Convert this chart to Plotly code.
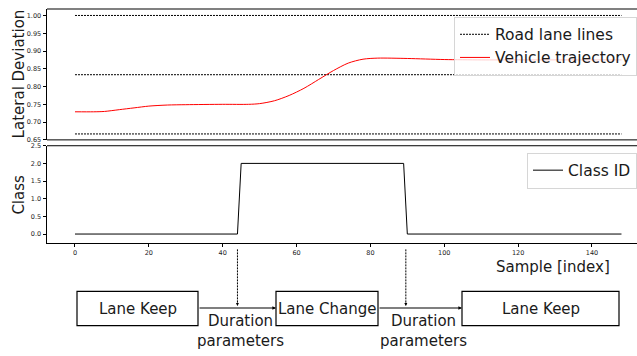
import plotly.graph_objects as go

# ---- data ----
lane_lines = [1.0, 0.8333, 0.6667]
lane_x_start = 0
lane_x_end = 148

traj_x = [0, 5, 8, 12, 16, 20, 25, 30, 40, 47, 50, 54, 58, 62, 66, 70, 74, 78, 82, 90, 100, 110, 120, 148]
traj_y = [0.729, 0.729, 0.730, 0.735, 0.740, 0.745, 0.748, 0.749, 0.750, 0.750, 0.752, 0.760,
          0.775, 0.795, 0.820, 0.845, 0.866, 0.877, 0.880, 0.879, 0.876, 0.875, 0.875, 0.875]

class_x = [0, 44, 45, 89, 90, 148]
class_y = [0, 0, 2, 2, 0, 0]

top_ticks = [0.65, 0.70, 0.75, 0.80, 0.85, 0.90, 0.95, 1.00]
bot_ticks = [0.0, 0.5, 1.0, 1.5, 2.0, 2.5]
x_ticks = [0, 20, 40, 60, 80, 100, 120, 140]

boxes = ["Lane Keep", "Lane Change", "Lane Keep"]
transitions = [44, 89.6]

W, H = 637, 356
FONT = "DejaVu Sans"

def px(x):
    return x / W

def py(y):
    return 1 - y / H

fig = go.Figure()

# lane lines (one legend entry)
lx, ly = [], []
for v in lane_lines:
    lx += [lane_x_start, lane_x_end, None]
    ly += [v, v, None]
fig.add_trace(go.Scatter(x=lx, y=ly, mode="lines", name="Road lane lines",
                         line=dict(color="black", width=1, dash="2px,1px"),
                         xaxis="x", yaxis="y", legend="legend"))
fig.add_trace(go.Scatter(x=traj_x, y=traj_y, mode="lines", name="Vehicle trajectory",
                         line=dict(color="red", width=1, shape="spline", smoothing=0.8),
                         xaxis="x", yaxis="y", legend="legend"))
fig.add_trace(go.Scatter(x=class_x, y=class_y, mode="lines", name="Class ID",
                         line=dict(color="black", width=1),
                         xaxis="x2", yaxis="y2", legend="legend2"))

xrange = [-7.58, 152.2]
xdom = [px(47), 1.0]
tickfont = dict(family=FONT, size=6.5, color="#222")

fig.update_layout(
    width=W, height=H,
    margin=dict(l=0, r=0, t=0, b=0),
    paper_bgcolor="white", plot_bgcolor="white",
    font=dict(family=FONT, color="black"),
    xaxis=dict(domain=xdom, range=xrange, anchor="y", showticklabels=False, ticks="",
               showgrid=False, zeroline=False, showline=False),
    yaxis=dict(domain=[py(139), py(5)], range=[0.65, 1.0185], anchor="x",
               tickvals=top_ticks, tickformat=".2f", ticks="outside", ticklen=3.5,
               tickwidth=1, tickcolor="black", tickfont=tickfont,
               showgrid=False, zeroline=False, showline=True, linecolor="black", linewidth=1),
    xaxis2=dict(domain=xdom, range=xrange, anchor="y2", tickvals=x_ticks,
                ticks="outside", ticklen=3.5, tickwidth=1, tickcolor="black", tickfont=tickfont,
                showgrid=False, zeroline=False, showline=True, linecolor="black", linewidth=1),
    yaxis2=dict(domain=[py(244), py(145)], range=[-0.24, 2.5], anchor="x2",
                tickvals=bot_ticks, tickformat=".1f", ticks="outside", ticklen=3.5,
                tickwidth=1, tickcolor="black", tickfont=tickfont,
                showgrid=False, zeroline=False, showline=True, linecolor="black", linewidth=1),
    legend=dict(x=1.0, y=py(13), xanchor="right", yanchor="top",
                bgcolor="rgba(255,255,255,0.8)", bordercolor="#d6d6d6", borderwidth=1,
                font=dict(family=FONT, size=15.5, color="#1a1a1a"), itemwidth=30,
                tracegroupgap=0),
    legend2=dict(x=1.0, y=py(152), xanchor="right", yanchor="top",
                 bgcolor="rgba(255,255,255,0.8)", bordercolor="#d6d6d6", borderwidth=1,
                 font=dict(family=FONT, size=15.5, color="#1a1a1a"), itemwidth=30),
    showlegend=True,
)

shapes = []
# top spine of top panel (gray) and bottom spine of top panel, top spine of bottom panel
shapes.append(dict(type="line", xref="paper", yref="paper", x0=px(47), x1=1, y0=py(5), y1=py(5),
                   line=dict(color="#808080", width=2)))
shapes.append(dict(type="line", xref="paper", yref="paper", x0=px(47), x1=1, y0=py(139), y1=py(139),
                   line=dict(color="black", width=1)))
shapes.append(dict(type="line", xref="paper", yref="paper", x0=px(47), x1=1, y0=py(145), y1=py(145),
                   line=dict(color="black", width=1)))

# diagram boxes
box_px = [(77, 198), (276, 378), (462, 619)]
for (x0, x1) in box_px:
    shapes.append(dict(type="rect", xref="paper", yref="paper", x0=px(x0), x1=px(x1),
                       y0=py(329), y1=py(294), line=dict(color="black", width=1.2),
                       fillcolor="rgba(0,0,0,0)"))
# vertical dashed arrows at transitions
for t in transitions:
    shapes.append(dict(type="line", xref="x2", yref="paper", x0=t, x1=t, y0=py(251), y1=py(306),
                       line=dict(color="black", width=1, dash="2px,1px")))

annotations = []
for i, (x0, x1) in enumerate(box_px):
    annotations.append(dict(text=boxes[i], xref="paper", yref="paper", x=px((x0 + x1) / 2),
                            y=py(311.5), showarrow=False, font=dict(family=FONT, size=15, color="#1a1a1a"),
                            xanchor="center", yanchor="middle"))
# connectors with arrowheads
for (a, b) in [(198, 276), (378, 462)]:
    annotations.append(dict(text="", xref="paper", yref="paper", x=px(b), y=py(311),
                            ax=a - b, ay=0, showarrow=True, arrowhead=2, arrowsize=0.6,
                            arrowwidth=1.2, arrowcolor="black", standoff=0))
for t in transitions:
    annotations.append(dict(text="", xref="x2", yref="paper", x=t, y=py(309),
                            ax=0, ay=-5, showarrow=True, arrowhead=2, arrowsize=0.6,
                            arrowwidth=1, arrowcolor="black", standoff=0))
for cx in [240, 423]:
    annotations.append(dict(text="Duration<br>parameters", xref="paper", yref="paper", x=px(cx),
                            y=py(334.5), showarrow=False,
                            font=dict(family=FONT, size=15, color="#1a1a1a"),
                            xanchor="center", yanchor="middle"))
# axis titles
annotations.append(dict(text="Lateral Deviation", xref="paper", yref="paper", x=px(19), y=py(72),
                        textangle=-90, showarrow=False, font=dict(family=FONT, size=15, color="#1a1a1a"),
                        xanchor="center", yanchor="middle"))
annotations.append(dict(text="Class", xref="paper", yref="paper", x=px(19), y=py(195),
                        textangle=-90, showarrow=False, font=dict(family=FONT, size=15, color="#1a1a1a"),
                        xanchor="center", yanchor="middle"))
annotations.append(dict(text="Sample [index]", xref="paper", yref="paper", x=px(553), y=py(269),
                        showarrow=False, font=dict(family=FONT, size=15, color="#1a1a1a"),
                        xanchor="center", yanchor="middle"))

fig.update_layout(shapes=shapes, annotations=annotations)

fig.write_html("out.html")
